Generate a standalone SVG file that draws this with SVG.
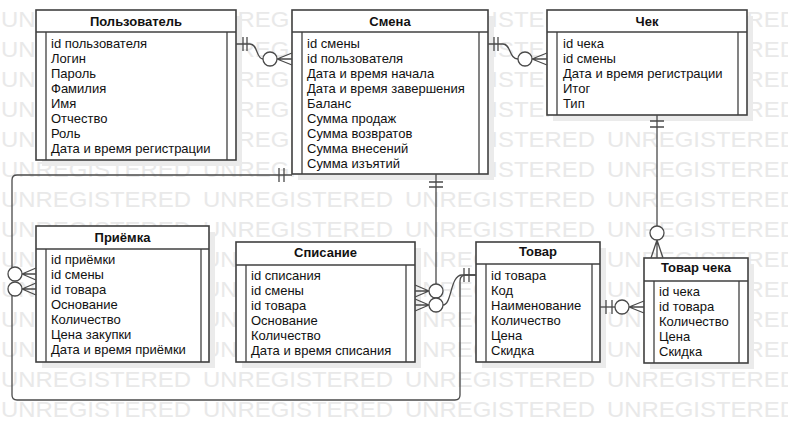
<svg xmlns="http://www.w3.org/2000/svg" xmlns:xlink="http://www.w3.org/1999/xlink" width="788" height="443" viewBox="0 0 788 443">
<style>
.wm{font-family:"Liberation Sans",Arial,sans-serif;font-size:22px;fill:#e9e9e9}
.box{fill:#fff;stroke:#404040;stroke-width:1.6}
.sh{fill:#ebebeb}
.in{stroke:#404040;stroke-width:1.3;fill:none}
.t{font-family:"Liberation Sans",Arial,sans-serif;font-size:13px;fill:#111}
.h{font-family:"Liberation Sans",Arial,sans-serif;font-size:13px;font-weight:bold;fill:#111;text-anchor:middle}
.c{fill:none;stroke:#4a4a4a;stroke-width:1.3}
.o{fill:#fff;stroke:#4a4a4a;stroke-width:1.3}
</style>
<defs>
<g id="wmrow" class="wm">
<text x="1" y="0" textLength="190" lengthAdjust="spacingAndGlyphs">UNREGISTERED</text>
<text x="203" y="0" textLength="190" lengthAdjust="spacingAndGlyphs">UNREGISTERED</text>
<text x="405" y="0" textLength="190" lengthAdjust="spacingAndGlyphs">UNREGISTERED</text>
<text x="607" y="0" textLength="190" lengthAdjust="spacingAndGlyphs">UNREGISTERED</text>
</g>
</defs>
<rect width="788" height="443" fill="#fff"/>
<g id="watermark">
<use xlink:href="#wmrow" y="27"/><use xlink:href="#wmrow" y="57"/><use xlink:href="#wmrow" y="87"/>
<use xlink:href="#wmrow" y="117"/><use xlink:href="#wmrow" y="147"/><use xlink:href="#wmrow" y="177"/>
<use xlink:href="#wmrow" y="207"/><use xlink:href="#wmrow" y="237"/><use xlink:href="#wmrow" y="267"/>
<use xlink:href="#wmrow" y="297"/><use xlink:href="#wmrow" y="327"/><use xlink:href="#wmrow" y="357"/>
<use xlink:href="#wmrow" y="387"/><use xlink:href="#wmrow" y="417"/>
</g>

<g id="polzovatel">
<rect class="sh" x="42" y="16" width="200" height="150"/>
<rect class="box" x="36" y="10" width="200" height="150"/>
<line class="in" x1="36" y1="32" x2="236" y2="32"/>
<line class="in" x1="46" y1="32" x2="46" y2="160"/>
<line class="in" x1="227" y1="32" x2="227" y2="160"/>
<text class="h" x="136" y="26">Пользователь</text>
<text class="t" x="51" y="48">id пользователя</text>
<text class="t" x="51" y="63">Логин</text>
<text class="t" x="51" y="78">Пароль</text>
<text class="t" x="51" y="93">Фамилия</text>
<text class="t" x="51" y="108">Имя</text>
<text class="t" x="51" y="123">Отчество</text>
<text class="t" x="51" y="138">Роль</text>
<text class="t" x="51" y="153">Дата и время регистрации</text>
</g>

<g id="smena">
<rect class="sh" x="298" y="16" width="196" height="164"/>
<rect class="box" x="292" y="10" width="196" height="164"/>
<line class="in" x1="292" y1="32" x2="488" y2="32"/>
<line class="in" x1="302" y1="32" x2="302" y2="174"/>
<line class="in" x1="479" y1="32" x2="479" y2="174"/>
<text class="h" x="390" y="26">Смена</text>
<text class="t" x="307" y="48">id смены</text>
<text class="t" x="307" y="63">id пользователя</text>
<text class="t" x="307" y="78">Дата и время начала</text>
<text class="t" x="307" y="93">Дата и время завершения</text>
<text class="t" x="307" y="108">Баланс</text>
<text class="t" x="307" y="123">Сумма продаж</text>
<text class="t" x="307" y="138">Сумма возвратов</text>
<text class="t" x="307" y="153">Сумма внесений</text>
<text class="t" x="307" y="168">Сумма изъятий</text>
</g>

<g id="chek">
<rect class="sh" x="553" y="16" width="200" height="105"/>
<rect class="box" x="547" y="10" width="200" height="105"/>
<line class="in" x1="547" y1="32" x2="747" y2="32"/>
<line class="in" x1="557" y1="32" x2="557" y2="115"/>
<line class="in" x1="738" y1="32" x2="738" y2="115"/>
<text class="h" x="647" y="26">Чек</text>
<text class="t" x="563" y="48">id чека</text>
<text class="t" x="563" y="63">id смены</text>
<text class="t" x="563" y="78">Дата и время регистрации</text>
<text class="t" x="563" y="93">Итог</text>
<text class="t" x="563" y="108">Тип</text>
</g>

<g id="priemka">
<rect class="sh" x="42" y="232" width="173" height="136"/>
<rect class="box" x="36" y="226" width="173" height="136"/>
<line class="in" x1="36" y1="249" x2="209" y2="249"/>
<line class="in" x1="46" y1="249" x2="46" y2="362"/>
<line class="in" x1="201" y1="249" x2="201" y2="362"/>
<text class="h" x="122.5" y="242">Приёмка</text>
<text class="t" x="51" y="264">id приёмки</text>
<text class="t" x="51" y="279">id смены</text>
<text class="t" x="51" y="294">id товара</text>
<text class="t" x="51" y="309">Основание</text>
<text class="t" x="51" y="324">Количество</text>
<text class="t" x="51" y="339">Цена закупки</text>
<text class="t" x="51" y="354">Дата и время приёмки</text>
</g>

<g id="spisanie">
<rect class="sh" x="242" y="248" width="179" height="120"/>
<rect class="box" x="236" y="242" width="179" height="120"/>
<line class="in" x1="236" y1="265" x2="415" y2="265"/>
<line class="in" x1="246" y1="265" x2="246" y2="362"/>
<line class="in" x1="406" y1="265" x2="406" y2="362"/>
<text class="h" x="325.5" y="257">Списание</text>
<text class="t" x="251" y="280">id списания</text>
<text class="t" x="251" y="295">id смены</text>
<text class="t" x="251" y="310">id товара</text>
<text class="t" x="251" y="325">Основание</text>
<text class="t" x="251" y="340">Количество</text>
<text class="t" x="251" y="355">Дата и время списания</text>
</g>

<g id="tovar">
<rect class="sh" x="482" y="248" width="124" height="120"/>
<rect class="box" x="476" y="242" width="124" height="120"/>
<line class="in" x1="476" y1="264" x2="600" y2="264"/>
<line class="in" x1="486" y1="264" x2="486" y2="362"/>
<line class="in" x1="592" y1="264" x2="592" y2="362"/>
<text class="h" x="538" y="256">Товар</text>
<text class="t" x="491" y="280">id товара</text>
<text class="t" x="491" y="295">Код</text>
<text class="t" x="491" y="310">Наименование</text>
<text class="t" x="491" y="325">Количество</text>
<text class="t" x="491" y="340">Цена</text>
<text class="t" x="491" y="355">Скидка</text>
</g>

<g id="tovar-cheka">
<rect class="sh" x="650" y="264" width="104" height="105"/>
<rect class="box" x="644" y="258" width="104" height="105"/>
<line class="in" x1="644" y1="281" x2="748" y2="281"/>
<line class="in" x1="654" y1="281" x2="654" y2="363"/>
<line class="in" x1="739" y1="281" x2="739" y2="363"/>
<text class="h" x="696" y="272">Товар чека</text>
<text class="t" x="659" y="296">id чека</text>
<text class="t" x="659" y="311">id товара</text>
<text class="t" x="659" y="326">Количество</text>
<text class="t" x="659" y="341">Цена</text>
<text class="t" x="659" y="356">Скидка</text>
</g>

<g id="connectors">
<path class="c" d="M236,44 H250 C258,44 256,59 263,59"/>
<path class="c" d="M243,37 V51 M247,37 V51"/>
<path class="c" d="M277,59 L292,53 M277,59 H292 M277,59 L292,65"/>
<circle class="o" cx="270" cy="59" r="7"/>

<path class="c" d="M488,44 H503 C511,44 509,59 518,59"/>
<path class="c" d="M494,37 V51 M498,37 V51"/>
<path class="c" d="M532,59 L547,53 M532,59 H547 M532,59 L547,65"/>
<circle class="o" cx="525" cy="59" r="7"/>

<path class="c" d="M657,115 V226"/>
<path class="c" d="M650,121 H664 M650,127 H664"/>
<path class="c" d="M657,240 L651,258 M657,240 V258 M657,240 L663,258"/>
<circle class="o" cx="657" cy="233" r="7"/>

<path class="c" d="M600,307 H615"/>
<path class="c" d="M606,300 V314 M612,300 V314"/>
<path class="c" d="M629,307 L644,301 M629,307 H644 M629,307 L644,313"/>
<circle class="o" cx="622" cy="307" r="7"/>

<path class="c" d="M292,175 H17 Q12,175 12,180 V273"/>
<path class="c" d="M279,168 V182 M284,168 V182"/>
<path class="c" d="M22,274 L36,268 M22,274 H36 M22,274 L36,280"/>

<path class="c" d="M12,289 V395 Q12,400 17,400 H455 Q460,400 460,395 V281 Q460,275 466,275 H476"/>
<path class="c" d="M464,268 V282 M469,268 V282"/>
<path class="c" d="M22,289 L36,283 M22,289 H36 M22,289 L36,295"/>
<circle class="o" cx="15" cy="274" r="7"/>
<circle class="o" cx="15" cy="289" r="7"/>

<path class="c" d="M436,174 V284"/>
<path class="c" d="M429,182 H443 M429,187 H443"/>
<path class="c" d="M429,291 L415,285 M429,291 H415 M429,291 L415,297"/>
<path class="c" d="M443,305 C452,305 450,275 462,275 H476"/>
<path class="c" d="M429,305 L415,299 M429,305 H415 M429,305 L415,311"/>
<circle class="o" cx="436" cy="291" r="7"/>
<circle class="o" cx="436" cy="305" r="7"/>
</g>
</svg>
